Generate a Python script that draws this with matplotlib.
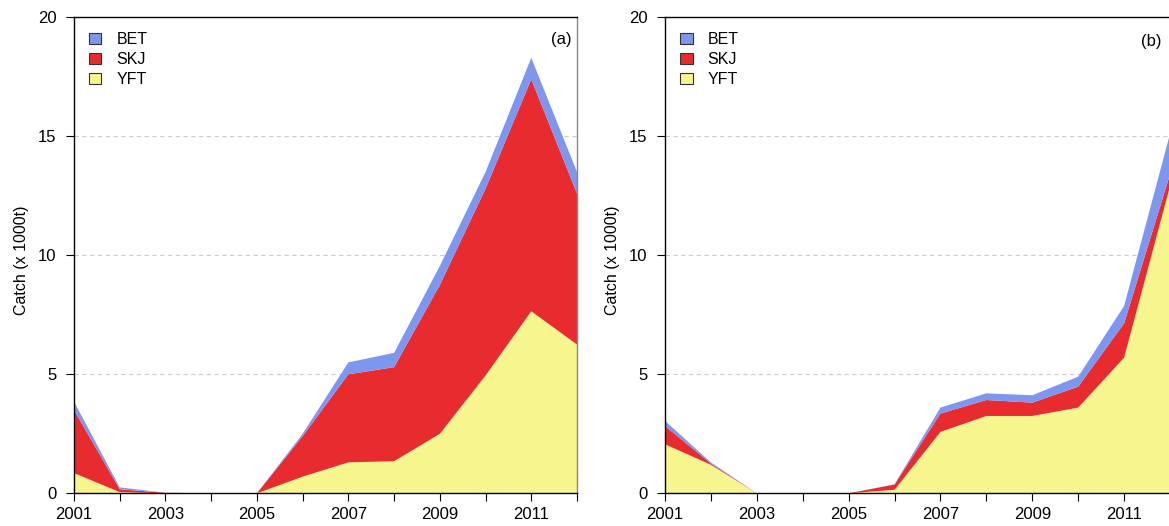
import matplotlib
matplotlib.use("Agg")
import matplotlib.pyplot as plt
from matplotlib.patches import Patch

plt.rcParams["font.family"] = ["Liberation Sans", "DejaVu Sans"]

years = [2001, 2002, 2003, 2004, 2005, 2006, 2007, 2008, 2009, 2010, 2011, 2012]
species = ["BET", "SKJ", "YFT"]

# Panel (a) catches (x 1000 t)
a_yft = [0.85, 0.05, 0.0, 0.0, 0.0, 0.70, 1.30, 1.35, 2.50, 4.95, 7.65, 6.25]
a_skj = [2.65, 0.12, 0.02, 0.0, 0.0, 1.70, 3.70, 3.95, 6.25, 7.85, 9.75, 6.35]
a_bet = [0.35, 0.08, 0.0, 0.0, 0.0, 0.10, 0.50, 0.60, 0.80, 0.70, 0.90, 0.90]

# Panel (b) catches (x 1000 t)
b_yft = [2.06, 1.20, 0.0, 0.0, 0.0, 0.15, 2.58, 3.25, 3.25, 3.60, 5.70, 12.90]
b_skj = [0.77, 0.05, 0.0, 0.0, 0.0, 0.22, 0.77, 0.67, 0.56, 0.88, 1.44, 0.50]
b_bet = [0.21, 0.05, 0.0, 0.0, 0.0, 0.01, 0.25, 0.28, 0.31, 0.42, 0.73, 1.70]

colors = {"BET": "#7D96EE", "SKJ": "#E82B2F", "YFT": "#F7F58D"}

W, H = 1169, 526
fig = plt.figure(figsize=(W / 100, H / 100), dpi=100)
ax1 = fig.add_axes([74 / W, 32.7 / H, 503 / W, 476 / H])
ax2 = fig.add_axes([665 / W, 32.7 / H, 505 / W, 476 / H])

def draw(ax, yft, skj, bet, tag, tag_x, tag_y):
    ax.stackplot(years, yft, skj, bet,
                 colors=[colors["YFT"], colors["SKJ"], colors["BET"]],
                 linewidth=0, zorder=2)
    ax.set_xlim(2001, 2012)
    ax.set_ylim(0, 20)
    for v in [5, 10, 15]:
        ax.axhline(v, color="#cccccc", lw=0.8, ls=(0, (4, 3)), zorder=1)
    ax.set_xticks(years)
    ax.set_xticklabels([str(y) if y % 2 == 1 else "" for y in years])
    ax.set_yticks([0, 5, 10, 15, 20])
    ax.tick_params(axis="both", direction="out", length=5.5, width=0.8,
                   labelsize=12, colors="black")
    ax.tick_params(axis="x", pad=4.3)
    ax.tick_params(axis="y", pad=7)
    ax.set_ylabel("Catch (x 1000t)", fontsize=11.5, va="center")
    ax.yaxis.set_label_coords(-52 / 503, 0.49)
    for s in ["left", "top", "bottom"]:
        ax.spines[s].set_color("black")
        ax.spines[s].set_linewidth(1.0)
    ax.spines["right"].set_color("#888888")
    ax.spines["right"].set_linewidth(1.0)
    ax.text(tag_x, tag_y, tag, transform=ax.transAxes, ha="right", va="center",
            fontsize=12)
    handles = [Patch(facecolor=colors[s], edgecolor="#333333", linewidth=0.8,
                     label=s) for s in species]
    ax.legend(handles=handles, loc="upper left", frameon=False, fontsize=11.5,
              handlelength=0.78, handleheight=0.68, handletextpad=0.95,
              labelspacing=0.3, borderaxespad=0, borderpad=0,
              bbox_to_anchor=(15 / 503, 1 - 15 / 476))

draw(ax1, a_yft, a_skj, a_bet, "(a)", 1 - 5.5 / 503, 1 - 22 / 476)
draw(ax2, b_yft, b_skj, b_bet, "(b)", 1 - 9 / 505, 1 - 24 / 476)

fig.savefig("out.png", dpi=100)
